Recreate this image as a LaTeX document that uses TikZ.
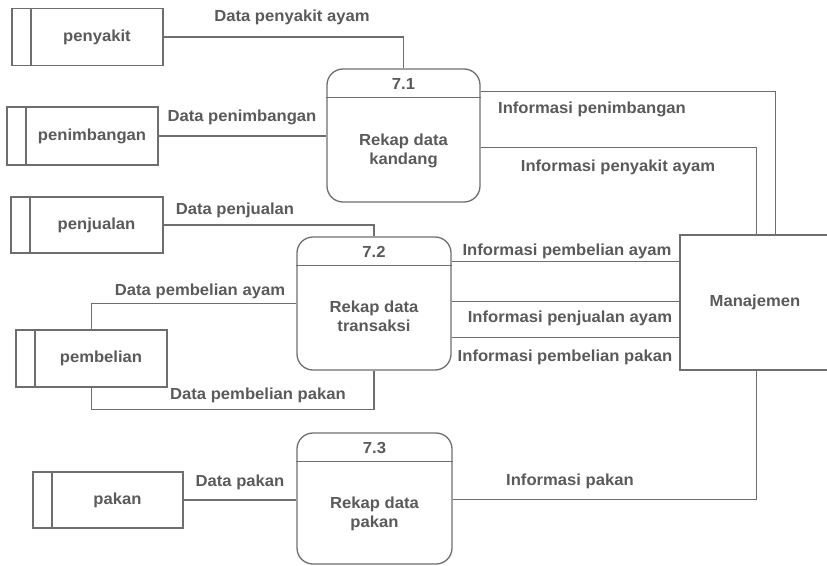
\documentclass[tikz,border=0pt]{standalone}
\usepackage{fontspec}
\setmainfont[FakeStretch=1.04]{Liberation Sans}
\usetikzlibrary{calc}
\definecolor{ln}{HTML}{6E6E6E}
\definecolor{tx}{HTML}{5A5A5A}
\begin{document}
\begin{tikzpicture}[x=1pt,y=-1pt,
  every node/.style={font=\fontsize{16}{19}\selectfont\bfseries, text=tx},
  lnk/.style={draw=ln, line width=1.3pt},
  store/.style={draw=ln, line width=1.3pt, minimum width=151pt, minimum height=57pt, inner sep=0pt,
    path picture={\draw[ln, line width=1.3pt] ([xshift=19pt]path picture bounding box.north west) -- ([xshift=19pt]path picture bounding box.south west);}},
  proc/.style={draw=ln, line width=1.3pt, rounded corners=16pt, inner sep=0pt},
  lbl/.style={inner sep=1pt},
]
\useasboundingbox (0,0) rectangle (827,565);
\clip (0,0) rectangle (827,565);

% data stores
\node[store] (s1) at (87.5,37) {\hspace*{19pt}penyakit};
\node[store, minimum height=58pt] (s2) at (82.5,136) {\hspace*{19pt}penimbangan};
\node[store, minimum width=152pt, minimum height=56pt] (s3) at (87,225) {\hspace*{19pt}penjualan};
\node[store] (s4) at (91.5,358.5) {\hspace*{19pt}pembelian};
\node[store, minimum width=150pt, minimum height=56pt] (s5) at (108,500) {\hspace*{19pt}pakan};

% processes
\node[proc, minimum width=153pt, minimum height=133pt] (p1) at (403.5,135.5) {};
\draw[lnk] ([yshift=-29pt]p1.north west) -- ([yshift=-29pt]p1.north east);
\node (p1n) at (403.5,84) {7.1};
\node[align=center] (p1t) at (403.5,151) {Rekap data\\kandang};

\node[proc, minimum width=154pt, minimum height=133pt] (p2) at (374,303.5) {};
\draw[lnk] ([yshift=-29pt]p2.north west) -- ([yshift=-29pt]p2.north east);
\node (p2n) at (374,252) {7.2};
\node[align=center] (p2t) at (374,316) {Rekap data\\transaksi};

\node[proc, minimum width=155pt, minimum height=131pt] (p3) at (374.5,498.5) {};
\draw[lnk] ([yshift=-29pt]p3.north west) -- ([yshift=-29pt]p3.north east);
\node (p3n) at (374.5,448) {7.3};
\node[align=center] (p3t) at (374.5,514) {Rekap data\\pakan};

% external entity
\node[draw=ln, line width=1.3pt, minimum width=160pt, minimum height=135pt, inner sep=0pt] (mg) at (760,302.5) {Manajemen\hspace*{10pt}};

% connectors
\draw[lnk] (s1.east) -| (p1.north);
\draw[lnk] (s2.east) -- (s2.east -| p1.west);
\draw[lnk] (s3.east) -| (p2.north);
\draw[lnk] (p2.west) -| (s4.north);
\draw[lnk] (s4.south) -- ++(0,22) -| (p2.south);
\draw[lnk] (s5.east) -- (s5.east -| p3.west);

\coordinate (a1) at ([yshift=-23pt]p1.north east);
\coordinate (a2) at ([yshift=-79pt]p1.north east);
\coordinate (m1) at ([xshift=96pt]mg.north west);
\coordinate (m2) at ([xshift=77pt]mg.north west);
\coordinate (m3) at ([xshift=77pt]mg.south west);
\draw[lnk] (a1) -| (m1);
\draw[lnk] (a2) -| (m2);

\coordinate (b1) at ([yshift=-25pt]p2.north east);
\coordinate (b2) at ([yshift=-65pt]p2.north east);
\coordinate (b3) at ([yshift=-101pt]p2.north east);
\draw[lnk] (b1) -- (b1 -| mg.west);
\draw[lnk] (b2) -- (b2 -| mg.west);
\draw[lnk] (b3) -- (b3 -| mg.west);

\coordinate (c1) at ([yshift=-67pt]p3.north east);
\draw[lnk] (c1) -| (m3);

% labels
\node[lbl] (l1) at (292,17) {Data penyakit ayam};
\node[lbl] (l2) at (242,117) {Data penimbangan};
\node[lbl] (l3) at (235,210) {Data penjualan};
\node[lbl] (l4) at (200,291) {Data pembelian ayam};
\node[lbl] (l5) at (258,395) {Data pembelian pakan};
\node[lbl] (l6) at (240,482) {Data pakan};
\node[lbl] (l7) at (592,109) {Informasi penimbangan};
\node[lbl] (l8) at (618,167) {Informasi penyakit ayam};
\node[lbl] (l9) at (567,251) {Informasi pembelian ayam};
\node[lbl] (l10) at (570,318) {Informasi penjualan ayam};
\node[lbl] (l11) at (565,357) {Informasi pembelian pakan};
\node[lbl] (l12) at (570,481) {Informasi pakan};
\end{tikzpicture}
\end{document}
